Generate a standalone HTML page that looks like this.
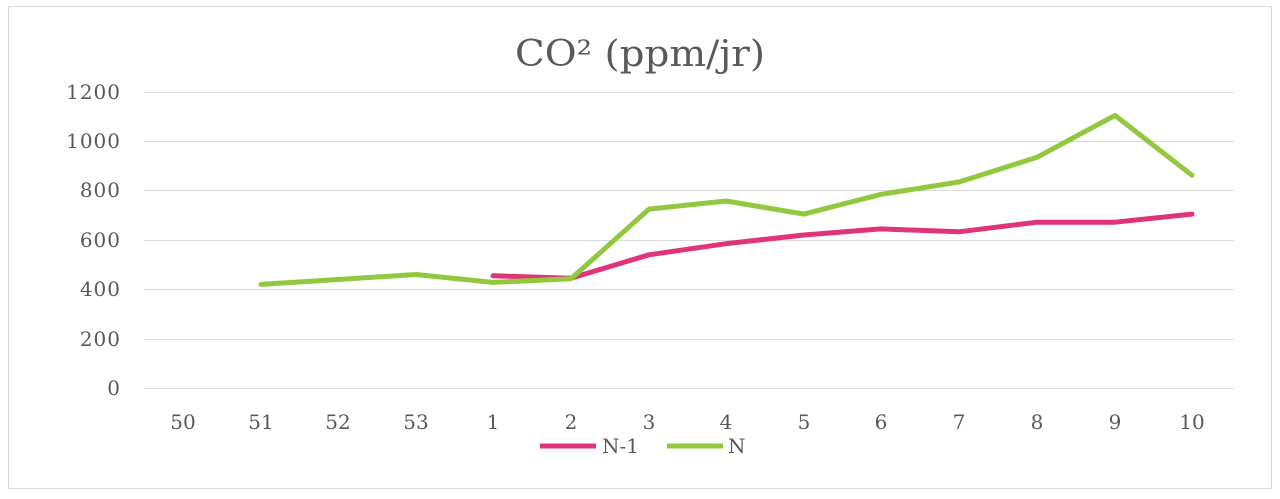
<!DOCTYPE html>
<html><head><meta charset="utf-8"><style>
html,body{margin:0;padding:0;background:#fff;}
svg text{font-family:"DejaVu Serif","Liberation Serif",serif;fill:#595959;}
</style></head><body>
<svg width="1280" height="494" viewBox="0 0 1280 494" xmlns="http://www.w3.org/2000/svg">
<rect x="0" y="0" width="1280" height="494" fill="#fff"/>
<rect x="8.5" y="6.5" width="1263" height="482" fill="#fff" stroke="#d9d9d9" stroke-width="1"/>
<text x="640" y="66" font-size="36" text-anchor="middle" textLength="250" lengthAdjust="spacingAndGlyphs">CO² (ppm/jr)</text>
<g stroke="#d9d9d9" stroke-width="1">
<line x1="144" x2="1234" y1="92.5" y2="92.5"/>
<line x1="144" x2="1234" y1="141.5" y2="141.5"/>
<line x1="144" x2="1234" y1="190.5" y2="190.5"/>
<line x1="144" x2="1234" y1="240.5" y2="240.5"/>
<line x1="144" x2="1234" y1="289.5" y2="289.5"/>
<line x1="144" x2="1234" y1="339.5" y2="339.5"/>
<line x1="144" x2="1234" y1="388.5" y2="388.5"/>
</g>
<g font-size="20" text-anchor="end" letter-spacing="1">
<text x="121" y="99">1200</text>
<text x="121" y="148">1000</text>
<text x="121" y="197">800</text>
<text x="121" y="247">600</text>
<text x="121" y="296">400</text>
<text x="121" y="346">200</text>
<text x="121" y="395">0</text>
</g>
<g font-size="20" text-anchor="middle">
<text x="183" y="429">50</text>
<text x="261" y="429">51</text>
<text x="338" y="429">52</text>
<text x="416" y="429">53</text>
<text x="493" y="429">1</text>
<text x="571" y="429">2</text>
<text x="649" y="429">3</text>
<text x="726" y="429">4</text>
<text x="804" y="429">5</text>
<text x="881" y="429">6</text>
<text x="959" y="429">7</text>
<text x="1037" y="429">8</text>
<text x="1115" y="429">9</text>
<text x="1192" y="429">10</text>
</g>
<polyline fill="none" stroke="#e0337a" stroke-width="5" stroke-linejoin="round" stroke-linecap="round"
points="493,275.8 571,278.2 649,254.8 726,243.7 804,235 881,228.9 959,231.8 1037,222.2 1115,222.2 1192,214.1"/>
<polyline fill="none" stroke="#92c83e" stroke-width="5" stroke-linejoin="round" stroke-linecap="round"
points="261,284.4 338,279.5 416,274.5 493,282.4 571,278.7 649,209.1 726,201 804,214.1 881,194.3 959,182 1037,157.3 1115,115.4 1192,175.3"/>
<line x1="540" x2="596" y1="446" y2="446" stroke="#e0337a" stroke-width="5"/>
<text x="602" y="453" font-size="20">N-1</text>
<line x1="667" x2="723" y1="446" y2="446" stroke="#92c83e" stroke-width="5"/>
<text x="728" y="453" font-size="20">N</text>
</svg>
</body></html>
